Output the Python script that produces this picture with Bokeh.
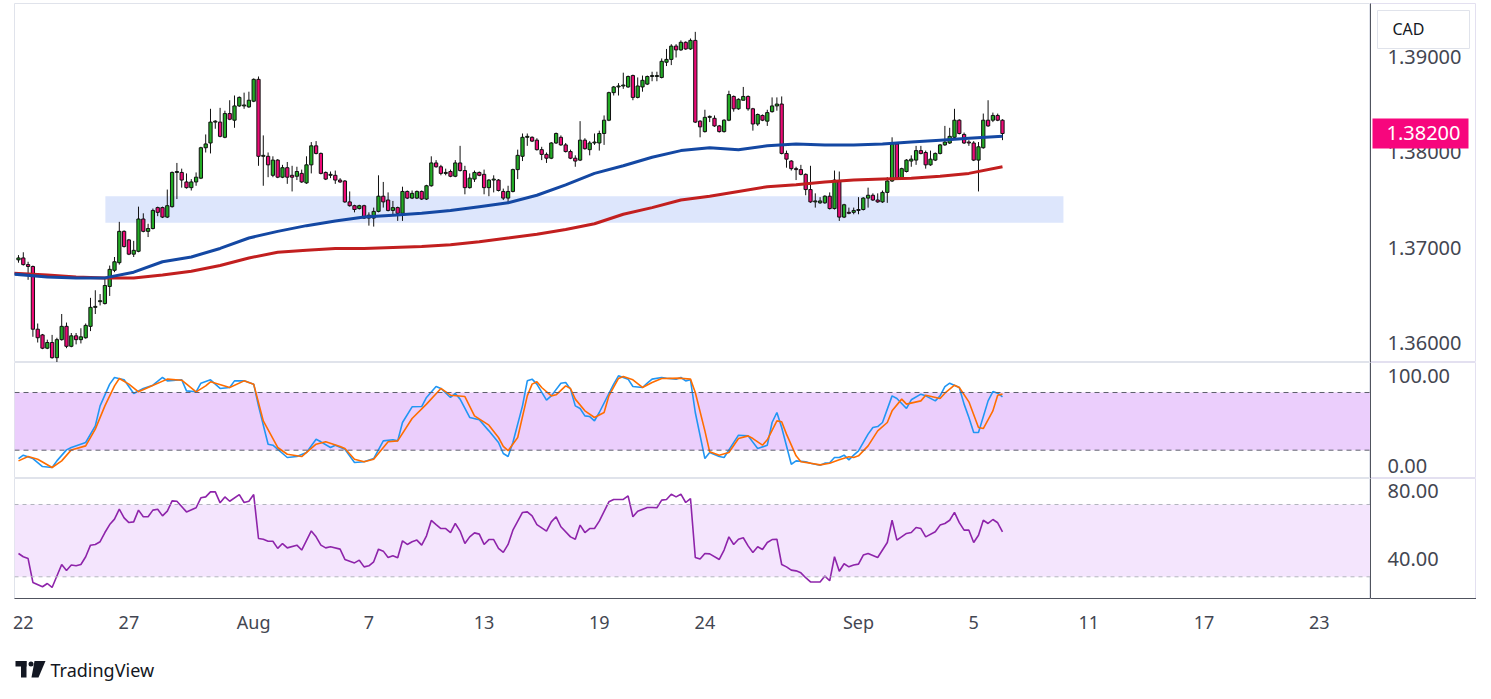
from bokeh.plotting import figure
from bokeh.layouts import column, row
from bokeh.models import Range1d, FixedTicker, BoxAnnotation, Span
from bokeh.core.properties import value
from bokeh.embed import file_html
from bokeh.resources import INLINE

# ---------------- data (4H candles, USD/CAD) ----------------
opens = [1.3687,1.3689,1.3682,1.3680,1.3614,1.3608,1.3594,1.3600,1.3584,1.3603,
         1.3617,1.3596,1.3607,1.3603,1.3605,1.3617,1.3637,1.3643,1.3641,1.3659,
         1.3676,1.3684,1.3717,1.3708,1.3693,1.3696,1.3730,1.3717,1.3720,1.3742,
         1.3742,1.3732,1.3743,1.3779,1.3779,1.3769,1.3763,1.3769,1.3773,1.3805,
         1.3810,1.3832,1.3832,1.3816,1.3841,1.3834,1.3849,1.3849,1.3848,1.3854,
         1.3877,1.3796,1.3796,1.3776,1.3792,1.3774,1.3784,1.3776,1.3775,1.3778,
         1.3768,1.3787,1.3807,1.3799,1.3779,1.3776,1.3776,1.3771,1.3770,1.3748,
         1.3744,1.3741,1.3744,1.3731,1.3731,1.3738,1.3754,1.3750,1.3739,1.3742,
         1.3736,1.3759,1.3752,1.3752,1.3759,1.3751,1.3765,1.3789,1.3785,1.3778,
         1.3780,1.3775,1.3789,1.3781,1.3763,1.3772,1.3779,1.3777,1.3763,1.3771,
         1.3771,1.3759,1.3752,1.3759,1.3782,1.3796,1.3816,1.3816,1.3813,1.3803,
         1.3798,1.3794,1.3810,1.3816,1.3808,1.3801,1.3794,1.3792,1.3813,1.3803,
         1.3810,1.3810,1.3820,1.3834,1.3863,1.3869,1.3870,1.3869,1.3881,1.3858,
         1.3869,1.3872,1.3880,1.3880,1.3879,1.3895,1.3898,1.3912,1.3908,1.3916,
         1.3909,1.3918,1.3833,1.3822,1.3837,1.3836,1.3828,1.3822,1.3834,1.3859,
         1.3846,1.3855,1.3859,1.3846,1.3830,1.3839,1.3833,1.3843,1.3849,1.3851,
         1.3799,1.3791,1.3783,1.3782,1.3777,1.3761,1.3748,1.3747,1.3747,1.3754,
         1.3741,1.3770,1.3732,1.3737,1.3737,1.3739,1.3740,1.3752,1.3755,1.3750,
         1.3748,1.3758,1.3770,1.3809,1.3773,1.3780,1.3791,1.3792,1.3802,1.3800,
         1.3787,1.3792,1.3799,1.3808,1.3810,1.3816,1.3834,1.3819,1.3811,1.3810,
         1.3792,1.3805,1.3834,1.3834,1.3839,1.3834]
highs = [1.3692,1.3695,1.3685,1.3681,1.3620,1.3609,1.3603,1.3608,1.3605,1.3630,
         1.3621,1.3610,1.3610,1.3615,1.3620,1.3647,1.3655,1.3651,1.3667,1.3681,
         1.3690,1.3727,1.3718,1.3709,1.3707,1.3743,1.3736,1.3725,1.3741,1.3743,
         1.3743,1.3761,1.3780,1.3789,1.3783,1.3778,1.3772,1.3779,1.3806,1.3819,
         1.3846,1.3834,1.3847,1.3844,1.3855,1.3860,1.3859,1.3863,1.3864,1.3878,
         1.3880,1.3818,1.3800,1.3796,1.3793,1.3787,1.3790,1.3786,1.3785,1.3782,
         1.3796,1.3811,1.3812,1.3800,1.3780,1.3780,1.3781,1.3773,1.3771,1.3759,
         1.3745,1.3745,1.3745,1.3737,1.3742,1.3776,1.3769,1.3758,1.3749,1.3743,
         1.3764,1.3760,1.3760,1.3760,1.3760,1.3766,1.3796,1.3792,1.3787,1.3783,
         1.3782,1.3792,1.3807,1.3786,1.3778,1.3781,1.3780,1.3782,1.3772,1.3776,
         1.3772,1.3762,1.3765,1.3783,1.3803,1.3820,1.3820,1.3817,1.3815,1.3806,
         1.3800,1.3811,1.3821,1.3818,1.3810,1.3803,1.3797,1.3833,1.3815,1.3812,
         1.3820,1.3823,1.3839,1.3864,1.3870,1.3873,1.3884,1.3881,1.3882,1.3879,
         1.3881,1.3881,1.3885,1.3885,1.3899,1.3909,1.3914,1.3914,1.3918,1.3917,
         1.3920,1.3927,1.3834,1.3845,1.3839,1.3839,1.3829,1.3835,1.3865,1.3860,
         1.3857,1.3869,1.3860,1.3847,1.3841,1.3840,1.3845,1.3858,1.3858,1.3859,
         1.3802,1.3792,1.3785,1.3787,1.3778,1.3786,1.3757,1.3753,1.3755,1.3758,
         1.3781,1.3780,1.3746,1.3742,1.3742,1.3753,1.3753,1.3763,1.3757,1.3757,
         1.3760,1.3774,1.3816,1.3811,1.3784,1.3793,1.3797,1.3807,1.3807,1.3802,
         1.3802,1.3800,1.3809,1.3828,1.3826,1.3846,1.3835,1.3821,1.3813,1.3812,
         1.3811,1.3841,1.3855,1.3842,1.3841,1.3835]
lows = [1.3684,1.3681,1.3666,1.3606,1.3600,1.3593,1.3593,1.3583,1.3579,1.3602,
        1.3594,1.3595,1.3598,1.3599,1.3604,1.3612,1.3630,1.3639,1.3640,1.3649,
        1.3674,1.3682,1.3700,1.3692,1.3690,1.3695,1.3716,1.3711,1.3719,1.3733,
        1.3731,1.3731,1.3742,1.3751,1.3763,1.3762,1.3760,1.3765,1.3772,1.3800,
        1.3799,1.3825,1.3816,1.3815,1.3834,1.3826,1.3848,1.3846,1.3847,1.3853,
        1.3786,1.3765,1.3774,1.3774,1.3773,1.3773,1.3767,1.3759,1.3771,1.3768,
        1.3767,1.3778,1.3798,1.3777,1.3771,1.3773,1.3767,1.3768,1.3747,1.3743,
        1.3737,1.3740,1.3730,1.3723,1.3722,1.3737,1.3742,1.3738,1.3734,1.3728,
        1.3728,1.3751,1.3751,1.3751,1.3750,1.3750,1.3764,1.3784,1.3776,1.3776,
        1.3774,1.3774,1.3780,1.3756,1.3762,1.3769,1.3775,1.3756,1.3754,1.3758,
        1.3759,1.3750,1.3746,1.3758,1.3772,1.3791,1.3807,1.3811,1.3802,1.3792,
        1.3789,1.3793,1.3809,1.3807,1.3800,1.3793,1.3785,1.3791,1.3803,1.3797,
        1.3808,1.3802,1.3808,1.3833,1.3860,1.3860,1.3867,1.3868,1.3855,1.3857,
        1.3864,1.3871,1.3875,1.3875,1.3878,1.3891,1.3892,1.3900,1.3907,1.3908,
        1.3908,1.3831,1.3816,1.3821,1.3832,1.3827,1.3821,1.3821,1.3833,1.3843,
        1.3845,1.3855,1.3844,1.3823,1.3828,1.3833,1.3828,1.3842,1.3844,1.3798,
        1.3784,1.3781,1.3771,1.3776,1.3755,1.3747,1.3742,1.3746,1.3746,1.3740,
        1.3740,1.3728,1.3731,1.3735,1.3735,1.3735,1.3739,1.3742,1.3749,1.3747,
        1.3747,1.3747,1.3769,1.3772,1.3772,1.3779,1.3785,1.3787,1.3798,1.3783,
        1.3786,1.3791,1.3798,1.3807,1.3809,1.3815,1.3819,1.3809,1.3807,1.3791,
        1.3759,1.3804,1.3827,1.3832,1.3833,1.3813]
closes = [1.3689,1.3682,1.3680,1.3614,1.3605,1.3594,1.3600,1.3584,1.3603,1.3617,
          1.3596,1.3607,1.3603,1.3606,1.3618,1.3637,1.3638,1.3644,1.3660,1.3677,
          1.3685,1.3717,1.3701,1.3693,1.3697,1.3730,1.3717,1.3720,1.3739,1.3737,
          1.3732,1.3744,1.3779,1.3780,1.3771,1.3763,1.3769,1.3774,1.3805,1.3809,
          1.3832,1.3833,1.3817,1.3841,1.3835,1.3849,1.3858,1.3850,1.3855,1.3877,
          1.3796,1.3797,1.3787,1.3792,1.3774,1.3784,1.3774,1.3774,1.3780,1.3769,
          1.3787,1.3807,1.3799,1.3778,1.3772,1.3777,1.3771,1.3769,1.3748,1.3744,
          1.3740,1.3744,1.3731,1.3734,1.3738,1.3754,1.3748,1.3739,1.3742,1.3736,
          1.3759,1.3752,1.3757,1.3759,1.3751,1.3765,1.3789,1.3785,1.3778,1.3779,
          1.3775,1.3789,1.3781,1.3763,1.3773,1.3779,1.3776,1.3763,1.3771,1.3772,
          1.3760,1.3752,1.3759,1.3782,1.3797,1.3816,1.3817,1.3812,1.3803,1.3798,
          1.3794,1.3810,1.3820,1.3808,1.3801,1.3794,1.3791,1.3813,1.3804,1.3810,
          1.3811,1.3820,1.3834,1.3863,1.3869,1.3870,1.3871,1.3880,1.3858,1.3870,
          1.3876,1.3880,1.3881,1.3881,1.3896,1.3898,1.3912,1.3908,1.3916,1.3909,
          1.3918,1.3832,1.3827,1.3837,1.3838,1.3828,1.3822,1.3834,1.3861,1.3846,
          1.3856,1.3859,1.3846,1.3830,1.3840,1.3834,1.3842,1.3849,1.3851,1.3799,
          1.3793,1.3783,1.3782,1.3777,1.3761,1.3748,1.3749,1.3749,1.3754,1.3741,
          1.3771,1.3732,1.3745,1.3736,1.3739,1.3740,1.3752,1.3755,1.3750,1.3748,
          1.3758,1.3770,1.3809,1.3773,1.3783,1.3792,1.3793,1.3802,1.3799,1.3787,
          1.3793,1.3799,1.3808,1.3811,1.3817,1.3834,1.3820,1.3810,1.3810,1.3792,
          1.3806,1.3834,1.3828,1.3839,1.3834,1.3820]

# moving averages (sampled along the candle index)
ma_idx = [-1, 6, 12, 18, 24, 30, 36, 42, 48, 54, 60, 66, 72, 78, 84, 90, 96, 102,
          108, 114, 120, 126, 132, 138, 144, 150, 156, 162, 168, 174, 180, 186, 192,
          198, 205]
ma_fast = [1.3672,1.3669,1.3668,1.3668,1.3674,1.3685,1.3690,1.3699,1.3710,1.3717,
           1.3723,1.3728,1.3732,1.3734,1.3736,1.3739,1.3743,1.3747,1.3755,1.3766,
           1.3778,1.3786,1.3795,1.3802,1.3805,1.3803,1.3807,1.3809,1.3808,1.3808,
           1.3809,1.3811,1.3813,1.3815,1.3817]
ma_slow = [1.3673,1.3671,1.3669,1.3668,1.3668,1.3671,1.3675,1.3681,1.3689,1.3695,
           1.3697,1.3699,1.3699,1.3700,1.3701,1.3703,1.3706,1.3710,1.3714,1.3719,
           1.3725,1.3735,1.3742,1.3750,1.3754,1.3759,1.3764,1.3766,1.3769,1.3771,
           1.3772,1.3773,1.3775,1.3778,1.3785]

# stochastic %K / %D
k_idx = [0,1,3,5,7,8,10,11,14,16,17,19,20,22,24,26,28,30,31,34,35,37,38,40,42,44,45,47,
         49,50,52,53,56,58,60,62,63,65,66,68,70,72,74,76,78,79,80,82,84,85,87,88,90,91,
         92,94,96,98,100,101,102,103,105,106,107,108,110,111,113,114,115,116,117,118,
         119,120,121,124,125,126,127,128,130,131,132,134,135,137,138,139,140,141,143,
         144,146,147,150,152,154,156,157,158,159,161,162,164,165,167,168,169,170,171,
         172,173,174,175,177,178,179,180,182,183,185,186,188,189,191,192,193,194,196,
         197,198,199,200,202,203,204,205]
k_val = [11.3,14.8,11.3,3.0,2.0,8.9,20.3,22.8,28.0,45.3,66.1,88.7,95.6,93.2,79.0,84.2,
         87.6,95.6,92.1,93.2,81.7,80.7,89.7,93.2,84.2,85.2,92.1,92.1,88.7,66.1,26.2,
         25.2,12.4,13.4,17.6,31.4,28.7,22.8,25.2,21.0,7.2,7.9,11.3,29.7,30.8,29.7,48.8,
         65.1,65.4,74.8,86.2,84.2,74.8,79.0,73.1,54.0,51.6,40.1,28.0,16.5,13.4,28.0,
         66.1,92.1,93.9,88.7,72.0,76.5,89.7,90.4,83.5,66.1,63.4,55.7,55.0,50.5,59.2,
         88.7,97.3,95.6,93.9,86.2,85.2,89.7,93.9,95.6,94.9,93.9,95.6,92.1,93.2,59.2,
         11.3,17.6,13.4,12.4,35.6,34.9,21.7,25.2,48.8,59.2,43.6,5.4,8.9,7.9,6.5,4.4,
         6.5,7.0,12.4,12.4,14.8,10.0,14.8,19.3,36.7,43.6,44.6,48.8,76.5,73.8,63.4,
         72.4,78.3,76.5,71.3,76.5,86.2,89.7,85.2,67.9,54.0,38.4,38.4,71.3,81.0,79.3,
         75.5]
d_idx = [0,2,4,7,9,11,14,16,18,20,21,23,25,27,31,34,37,39,40,44,47,49,51,54,56,59,62,
         64,67,68,70,72,74,77,79,82,85,88,90,93,95,98,100,101,102,104,106,107,108,109,
         111,112,114,115,116,118,120,122,123,125,126,128,130,132,134,138,140,141,143,
         144,146,148,150,152,153,155,156,158,159,160,162,163,165,167,169,171,173,174,
         175,177,179,181,182,184,185,188,189,192,193,195,196,198,200,201,203,204,205]
d_val = [8.9,13.4,10.6,2.0,8.9,20.3,24.5,41.9,66.1,86.9,94.6,88.7,80.7,85.2,93.9,92.8,
         80.7,86.9,91.1,85.2,92.1,88.7,50.5,22.8,15.8,13.4,26.2,28.7,23.8,21.7,10.6,
         7.9,10.6,28.7,29.7,53.0,67.9,84.2,77.2,75.8,55.7,46.0,33.2,24.0,19.5,33.2,
         76.5,88.7,91.1,85.2,76.5,77.6,86.9,84.2,73.1,60.9,54.0,59.2,76.5,94.6,96.6,
         93.2,85.2,90.4,94.6,94.9,93.9,80.0,40.1,18.3,14.8,17.6,32.1,34.9,32.1,25.2,
         30.8,50.5,49.5,36.7,14.1,7.9,6.5,4.7,6.5,10.0,13.1,12.4,14.1,24.5,40.1,48.8,
         60.9,73.1,67.9,71.3,77.2,73.8,79.3,87.6,85.2,70.3,43.6,42.5,60.9,77.2,78.3]

# RSI
r_idx = [0,1,2,3,5,6,7,9,10,11,12,13,14,15,16,17,18,19,20,21,22,23,24,25,26,27,28,29,
         30,31,32,33,35,37,38,39,40,41,42,43,44,46,47,48,49,50,51,52,53,54,55,56,58,59,
         61,62,63,64,65,67,68,70,71,72,73,74,75,76,77,78,79,80,81,82,83,84,85,86,87,88,
         89,90,91,92,93,94,95,96,97,98,99,100,101,102,103,105,106,107,108,110,111,112,
         113,115,116,117,118,119,120,121,123,124,126,127,128,129,131,132,133,134,135,
         136,137,138,139,140,141,142,143,144,146,147,148,149,150,151,152,153,154,155,
         156,157,158,159,160,161,162,163,164,165,167,168,169,170,171,172,173,174,175,
         176,177,179,181,182,183,185,186,187,188,189,191,192,193,194,195,196,197,198,
         199,200,201,202,203,204,205]
r_val = [42.9,41.1,40.1,26.9,24.5,26.3,24.1,36.8,33.5,36.5,36.1,36.8,41.1,47.5,47.9,
         49.4,54.5,58.9,61.9,67.4,62.6,60.0,60.4,66.9,63.2,63.2,66.9,67.4,63.7,66.3,
         72.0,71.8,65.9,68.2,73.7,74.2,77.0,77.0,70.9,74.2,71.8,75.5,71.1,71.8,75.5,
         51.2,50.8,49.7,49.7,45.7,48.4,46.0,47.5,44.8,55.4,52.1,47.5,46.0,46.6,45.3,
         39.6,37.7,39.2,35.5,36.1,38.3,45.3,44.2,40.7,41.6,40.5,49.9,47.9,49.4,50.3,
         47.5,52.7,61.2,58.9,56.7,56.7,54.5,59.5,55.3,48.4,52.1,54.3,53.6,47.9,50.6,
         50.6,45.7,43.5,47.9,55.8,65.6,65.9,63.7,58.9,55.3,60.4,63.2,57.7,52.1,50.8,
         58.6,54.5,56.7,56.7,60.8,71.5,72.8,72.8,74.8,63.2,66.3,68.3,68.3,68.2,72.4,
         72.8,75.7,74.2,75.7,71.1,73.3,40.7,39.8,42.9,42.7,39.6,44.8,52.1,47.9,50.8,
         51.6,47.1,43.5,46.6,45.1,49.0,50.6,50.8,36.8,35.5,33.7,33.3,32.2,29.5,27.2,
         27.1,30.4,27.8,41.1,33.1,37.2,35.5,36.5,37.0,42.0,42.9,40.7,49.0,61.3,50.3,
         54.0,54.5,57.3,56.7,52.1,54.9,58.6,59.5,61.3,65.6,60.0,55.8,55.8,49.0,53.0,
         61.3,59.5,61.7,59.9,54.9]

# support zone (price band) and last price
zone_low, zone_high = 1.3726, 1.3754
zone_from, zone_to = 18.1, 217.7
last_price = 1.38200
currency = "CAD"

# axes
tick_idx = [1, 23, 49, 73, 97, 121, 143, 175, 199, 223, 247, 271]
tick_labels = ["22", "27", "Aug", "7", "13", "19", "24", "Sep", "5", "11", "17", "23"]
price_ticks = [1.36, 1.37, 1.38, 1.39]
stoch_ticks = [0, 100]
rsi_ticks = [40, 80]

# ---------------- styling ----------------
GREEN = "#22ab24"
RED = "#ec0a76"
FONT = "Noto Sans"
LABEL_COLOR = "#434651"
AXIS_COLOR = "#50535e"
BORDER = "#e0e3eb"
SEP = "#e3e0f0"

idx = list(range(len(opens)))
body_top = [max(o, c) for o, c in zip(opens, closes)]
body_bot = [min(o, c) for o, c in zip(opens, closes)]
colors = [GREEN if c >= o else RED for o, c in zip(opens, closes)]

xr = Range1d(-0.833, 281.67)
FW = 1356        # plot frame width
SW = 106         # price-scale column width
sx = Range1d(0, SW)   # price-scale column's horizontal range (pixels)


def base(p):
    p.outline_line_color = BORDER
    p.background_fill_color = "white"
    p.border_fill_color = "white"
    p.xgrid.visible = False
    p.ygrid.visible = False
    p.min_border_right = 0


def bare_axis(ax):
    ax.ticker = FixedTicker(ticks=[])
    ax.axis_line_color = AXIS_COLOR
    ax.major_tick_out = 0
    ax.major_tick_in = 0
    ax.minor_tick_out = 0
    ax.major_label_standoff = 0


def scale_col(height, yr, ticks, fmt, top=0, bottom=0, with_x=False, nudge=None):
    q = figure(frame_width=SW, frame_height=height, x_range=sx, y_range=yr,
               output_backend="svg", toolbar_location=None,
               x_axis_location="below" if with_x else None, y_axis_location="left",
               min_border_left=0, min_border_right=0, min_border_top=top,
               min_border_bottom=bottom)
    base(q)
    q.outline_line_color = SEP
    bare_axis(q.yaxis[0])
    if with_x:
        bare_axis(q.xaxis[0])
    offs = nudge if nudge else [0] * len(ticks)
    for t, off in zip(ticks, offs):
        q.text(x=[17], y=[t], text=[fmt % t], y_offset=off,
               text_font=value(FONT), text_font_size="20px", text_color=LABEL_COLOR,
               text_baseline="middle", text_align="left")
    return q


# main price panel
p1 = figure(frame_width=FW, frame_height=359, x_range=xr,
            y_range=Range1d(1.357895, 1.395684),
            output_backend="svg", toolbar_location=None,
            x_axis_location=None, y_axis_location=None,
            min_border_left=14, min_border_top=3, min_border_bottom=0)
base(p1)
p1.add_layout(BoxAnnotation(left=zone_from, right=zone_to, bottom=zone_low, top=zone_high,
                            fill_color="#dde6fc", fill_alpha=1.0, line_alpha=0, level="underlay"))
p1.segment(x0=idx, y0=lows, x1=idx, y1=highs, line_color="#111111", line_width=1)
p1.vbar(x=idx, width=0.68, top=body_top, bottom=body_bot, fill_color=colors,
        line_color="#111111", line_width=1)
p1.line(ma_idx, ma_slow, line_color="#c21f1f", line_width=3)
p1.line(ma_idx, ma_fast, line_color="#1448a3", line_width=3)

q1 = scale_col(359, p1.y_range, price_ticks, "%.5f", top=3)
# currency box
q1.rect(x=[53], y=[1.39295], width=92, height=38, width_units="screen",
        height_units="screen", fill_color="white", line_color=BORDER, line_width=1)
q1.text(x=[22], y=[1.39295], text=[currency], text_font=value(FONT), text_font_size="16px",
        text_color="#131722", text_baseline="middle", text_align="left")
# last price tag
q1.rect(x=[50], y=[last_price], width=96, height=30, width_units="screen",
        height_units="screen", fill_color="#f7067d", line_color=None)
q1.text(x=[16], y=[last_price], text=["%.5f" % last_price], text_font=value(FONT),
        text_font_size="20px", text_color="white", text_baseline="middle",
        text_align="left")

# stochastic panel
p2 = figure(frame_width=FW, frame_height=116, x_range=xr, y_range=Range1d(-9.45, 111.2),
            output_backend="svg", toolbar_location=None,
            x_axis_location=None, y_axis_location=None,
            min_border_left=14, min_border_top=0, min_border_bottom=0)
base(p2)
p2.add_layout(BoxAnnotation(bottom=20, top=80, fill_color="#ebcefc", fill_alpha=1.0,
                            line_alpha=0, level="underlay"))
for lvl in (20, 80):
    p2.add_layout(Span(location=lvl, dimension="width", line_color="#5d606b",
                       line_dash="5 4", line_width=1))
p2.line(k_idx, k_val, line_color="#2196f3", line_width=1.6)
p2.line(d_idx, d_val, line_color="#ff6d00", line_width=1.6)
q2 = scale_col(116, p2.y_range, stoch_ticks, "%.2f", nudge=[-3, 3])

# RSI panel with time axis
p3 = figure(frame_width=FW, frame_height=120, x_range=xr, y_range=Range1d(18.0, 84.38),
            output_backend="svg", toolbar_location=None,
            x_axis_location="below", y_axis_location=None,
            min_border_left=14, min_border_top=0, min_border_bottom=47)
base(p3)
p3.add_layout(BoxAnnotation(bottom=30, top=70, fill_color="#f4e5fd", fill_alpha=1.0,
                            line_alpha=0, level="underlay"))
for lvl in (30, 70):
    p3.add_layout(Span(location=lvl, dimension="width", line_color="#b2b5be",
                       line_dash="4 4", line_width=1))
p3.line(r_idx, r_val, line_color="#8e24aa", line_width=1.6)
xa = p3.xaxis[0]
xa.ticker = FixedTicker(ticks=tick_idx)
xa.major_label_overrides = {t: l for t, l in zip(tick_idx, tick_labels)}
xa.axis_line_color = AXIS_COLOR
xa.major_tick_line_color = None
xa.minor_tick_line_color = None
xa.major_tick_out = 0
xa.major_tick_in = 0
xa.minor_tick_out = 0
xa.major_label_standoff = 11
xa.major_label_text_font = FONT
xa.major_label_text_font_size = "18px"
xa.major_label_text_color = LABEL_COLOR
q3 = scale_col(120, p3.y_range, rsi_ticks, "%.2f", bottom=47, with_x=True, nudge=[0, 5])

# footer with the TradingView mark
foot = figure(width=1480, height=50, x_range=Range1d(0, 1480), y_range=Range1d(0, 50),
              output_backend="svg", toolbar_location=None,
              x_axis_location=None, y_axis_location=None,
              min_border=0)
foot.outline_line_color = None
foot.xgrid.visible = False
foot.ygrid.visible = False
foot.quad(left=[15], right=[26], bottom=[29], top=[34.5], fill_color="#131722", line_color=None)
foot.quad(left=[20.5], right=[26], bottom=[18], top=[34.5], fill_color="#131722", line_color=None)
foot.scatter(x=[30.5], y=[31.5], size=5, fill_color="#131722", line_color=None)
foot.patch(x=[34, 45, 38, 31], y=[34.5, 34.5, 18, 18], fill_color="#131722", line_color=None)
foot.text(x=[50], y=[26], text=["TradingView"], text_font=value(FONT), text_font_size="18px",
          text_color="#131722", text_baseline="middle", text_align="left")

layout = column(row(column(p1, p2, p3, spacing=0), column(q1, q2, q3, spacing=0), spacing=0),
                foot, spacing=0)
open("out.html", "w").write(file_html(layout, INLINE))
